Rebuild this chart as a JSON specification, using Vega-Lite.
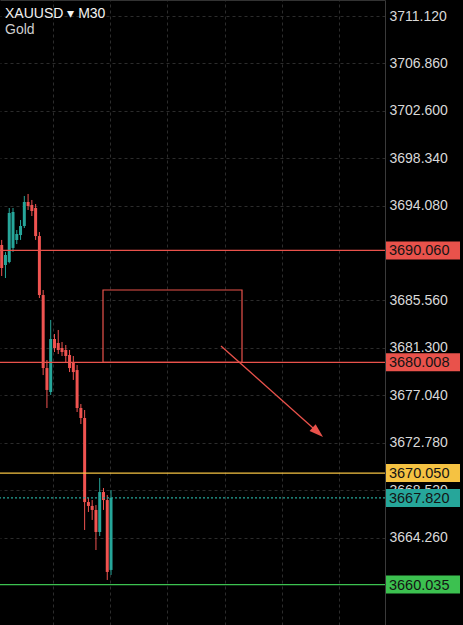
{
  "$schema": "https://vega.github.io/schema/vega-lite/v6.json",
  "width": 385,
  "height": 625,
  "autosize": {"type": "none"},
  "padding": {"left": 0, "top": 0, "right": 78, "bottom": 0},
  "background": "#000000",
  "config": {"view": {"stroke": null}, "font": "Liberation Sans"},
  "resolve": {"axis": {"x": "independent", "y": "independent"}},
  "datasets": {
    "candles": [
      {"t": 0, "open": 3690.55, "high": 3691.00, "low": 3687.76, "close": 3688.48},
      {"t": 1, "open": 3688.75, "high": 3689.92, "low": 3687.58, "close": 3689.65},
      {"t": 2, "open": 3689.02, "high": 3693.87, "low": 3688.90, "close": 3693.42},
      {"t": 3, "open": 3690.28, "high": 3693.87, "low": 3689.92, "close": 3693.51},
      {"t": 4, "open": 3691.00, "high": 3691.89, "low": 3690.63, "close": 3691.53},
      {"t": 5, "open": 3691.44, "high": 3692.79, "low": 3691.00, "close": 3692.25},
      {"t": 6, "open": 3692.25, "high": 3694.95, "low": 3692.07, "close": 3694.41},
      {"t": 7, "open": 3694.41, "high": 3695.13, "low": 3693.69, "close": 3694.05},
      {"t": 8, "open": 3694.14, "high": 3694.59, "low": 3693.15, "close": 3693.60},
      {"t": 9, "open": 3693.87, "high": 3694.23, "low": 3691.00, "close": 3691.35},
      {"t": 10, "open": 3691.35, "high": 3691.71, "low": 3685.78, "close": 3686.05},
      {"t": 11, "open": 3686.05, "high": 3686.50, "low": 3678.86, "close": 3679.49},
      {"t": 12, "open": 3679.49, "high": 3680.21, "low": 3675.90, "close": 3677.52},
      {"t": 13, "open": 3677.34, "high": 3683.81, "low": 3677.07, "close": 3682.10},
      {"t": 14, "open": 3682.10, "high": 3682.55, "low": 3680.93, "close": 3681.29},
      {"t": 15, "open": 3681.74, "high": 3682.91, "low": 3680.75, "close": 3681.11},
      {"t": 16, "open": 3681.29, "high": 3681.83, "low": 3680.57, "close": 3680.93},
      {"t": 17, "open": 3681.11, "high": 3681.56, "low": 3680.03, "close": 3680.57},
      {"t": 18, "open": 3680.66, "high": 3681.11, "low": 3679.13, "close": 3679.49},
      {"t": 19, "open": 3680.03, "high": 3680.57, "low": 3678.42, "close": 3679.13},
      {"t": 20, "open": 3679.31, "high": 3679.76, "low": 3675.54, "close": 3675.90},
      {"t": 21, "open": 3675.90, "high": 3676.26, "low": 3674.46, "close": 3675.00},
      {"t": 22, "open": 3675.00, "high": 3675.72, "low": 3664.94, "close": 3667.45},
      {"t": 23, "open": 3667.45, "high": 3667.81, "low": 3666.56, "close": 3667.10},
      {"t": 24, "open": 3667.10, "high": 3667.63, "low": 3665.84, "close": 3666.74},
      {"t": 25, "open": 3666.74, "high": 3667.18, "low": 3663.14, "close": 3664.76},
      {"t": 26, "open": 3664.76, "high": 3669.61, "low": 3664.40, "close": 3668.35},
      {"t": 27, "open": 3668.35, "high": 3668.71, "low": 3666.74, "close": 3667.63},
      {"t": 28, "open": 3667.63, "high": 3668.08, "low": 3660.45, "close": 3661.17},
      {"t": 29, "open": 3661.35, "high": 3668.53, "low": 3660.90, "close": 3667.82}
    ],
    "levels": [
      {"name": "r1", "price": 3690.060, "style": "solid"},
      {"name": "r2", "price": 3680.008, "style": "solid"},
      {"name": "y1", "price": 3670.050, "style": "solid"},
      {"name": "cur", "price": 3667.820, "style": "dotted"},
      {"name": "g1", "price": 3660.035, "style": "solid"}
    ],
    "zone": [
      {"t1": 26.87, "t2": 63.74, "p1": 3680.008, "p2": 3686.50}
    ],
    "arrow": [
      {"t": 58.17, "p": 3681.47},
      {"t": 83.85, "p": 3673.72}
    ],
    "header": [
      {"t": 0.88, "p": 3711.30, "txt": "XAUUSD ▾ M30", "kind": "sym"},
      {"t": 0.88, "p": 3709.86, "txt": "Gold", "kind": "desc"}
    ]
  },
  "layer": [
    {
      "data": {"name": "candles"},
      "mark": {"type": "rule", "strokeWidth": 1},
      "encoding": {
        "x": {
          "field": "t", "type": "quantitative",
          "scale": {"domain": [-0.45, 101.67], "nice": false, "zero": false, "padding": 0},
          "axis": {
            "orient": "top", "values": [13.6, 28.75, 43.95, 59.15, 74.35, 89.55],
            "labels": false, "ticks": false, "domain": true, "domainColor": "#333333",
            "grid": true, "gridColor": "#2c2c2c", "gridDash": [3, 3], "title": null
          }
        },
        "y": {
          "field": "low", "type": "quantitative",
          "scale": {"domain": [3656.403, 3712.558], "nice": false, "zero": false, "padding": 0},
          "axis": {
            "orient": "right",
            "values": [3711.12, 3706.86, 3702.6, 3698.34, 3694.08, 3685.56, 3681.3, 3677.04, 3672.78, 3668.52, 3664.26],
            "format": ".3f", "labelColor": "#d9d9d9", "labelFontSize": 14, "labelFont": "Liberation Sans",
            "labelPadding": 4, "labelOverlap": false, "labelFlush": false, "labelBound": false,
            "ticks": false, "domain": true, "domainColor": "#3a3a3a",
            "grid": true, "gridColor": "#2c2c2c", "gridDash": [3, 3], "title": null
          }
        },
        "y2": {"field": "high"},
        "color": {"condition": {"test": "datum.close >= datum.open", "value": "#26a69a"}, "value": "#ef5350"}
      }
    },
    {
      "data": {"name": "candles"},
      "mark": {"type": "bar", "size": 3},
      "encoding": {
        "x": {"field": "t", "type": "quantitative", "axis": null},
        "y": {"field": "open", "type": "quantitative", "axis": null},
        "y2": {"field": "close"},
        "color": {"condition": {"test": "datum.close >= datum.open", "value": "#26a69a"}, "value": "#ef5350"}
      }
    },
    {
      "data": {"name": "levels"},
      "mark": {"type": "rule", "strokeWidth": 1.2},
      "encoding": {
        "y": {"field": "price", "type": "quantitative", "axis": null},
        "color": {"field": "name", "type": "nominal", "legend": null,
          "scale": {"domain": ["r1", "r2", "y1", "cur", "g1"], "range": ["#e9524b", "#e9524b", "#f5c242", "#26a69a", "#3cc150"]}},
        "strokeDash": {"field": "style", "type": "nominal", "legend": null,
          "scale": {"domain": ["solid", "dotted"], "range": [[1, 0], [2, 2]]}}
      }
    },
    {
      "data": {"name": "zone"},
      "mark": {"type": "rect", "fill": null, "fillOpacity": 0, "stroke": "#e9524b", "strokeWidth": 1.2},
      "encoding": {
        "x": {"field": "t1", "type": "quantitative", "axis": null},
        "x2": {"field": "t2"},
        "y": {"field": "p1", "type": "quantitative", "axis": null},
        "y2": {"field": "p2"}
      }
    },
    {
      "data": {"name": "arrow"},
      "mark": {"type": "line", "color": "#e9524b", "strokeWidth": 1.3},
      "encoding": {
        "x": {"field": "t", "type": "quantitative", "axis": null},
        "y": {"field": "p", "type": "quantitative", "axis": null}
      }
    },
    {
      "data": {"name": "arrow"},
      "transform": [{"filter": "datum.t > 70"}],
      "mark": {"type": "point", "shape": "M1,0L-1,-0.65L-1,0.65Z", "size": 196, "angle": 41.7, "filled": true, "color": "#e9524b", "opacity": 1},
      "encoding": {
        "x": {"field": "t", "type": "quantitative", "axis": null},
        "y": {"field": "p", "type": "quantitative", "axis": null}
      }
    },
    {
      "data": {"name": "levels"},
      "mark": {"type": "point", "shape": "M-1,-0.2432L1,-0.2432L1,0.2432L-1,0.2432Z", "size": 5476, "filled": true, "opacity": 1, "clip": false},
      "encoding": {
        "x": {"datum": 111.75, "type": "quantitative", "axis": null},
        "y": {"field": "price", "type": "quantitative", "axis": null},
        "color": {"field": "name", "type": "nominal", "legend": null}
      }
    },
    {
      "data": {"name": "levels"},
      "mark": {"type": "text", "align": "left", "baseline": "middle", "fontSize": 14.5, "font": "Liberation Sans", "color": "#141414", "dy": 1},
      "encoding": {
        "x": {"datum": 102.73, "type": "quantitative", "axis": null},
        "y": {"field": "price", "type": "quantitative", "axis": null},
        "text": {"field": "price", "format": ".3f"}
      }
    },
    {
      "data": {"name": "header"},
      "mark": {"type": "text", "align": "left", "baseline": "middle", "fontSize": 14, "font": "Liberation Sans"},
      "encoding": {
        "x": {"field": "t", "type": "quantitative", "axis": null},
        "y": {"field": "p", "type": "quantitative", "axis": null},
        "text": {"field": "txt"},
        "color": {"condition": {"test": "datum.kind === 'sym'", "value": "#f2f2f2"}, "value": "#cfcfcf"},
        "fontWeight": {"condition": {"test": "datum.kind === 'sym'", "value": 600}, "value": 400}
      }
    }
  ]
}
